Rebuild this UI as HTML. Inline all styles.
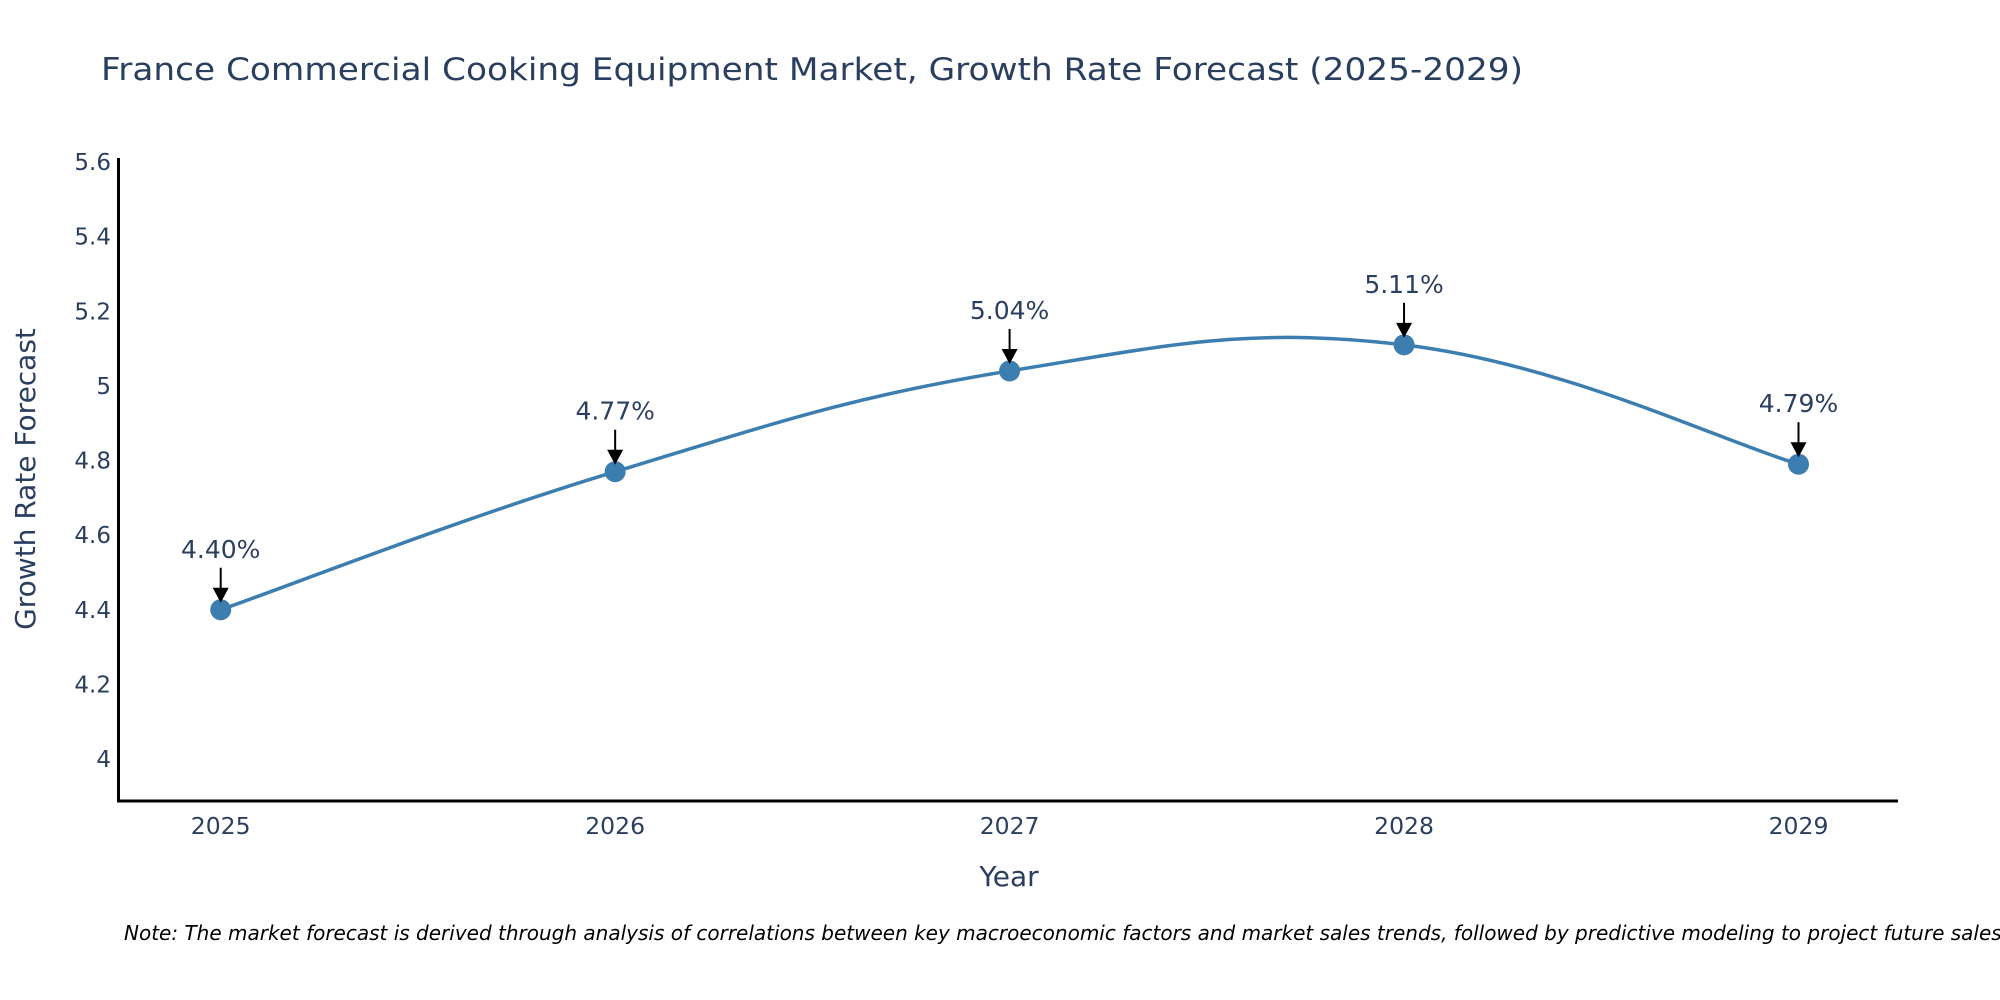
<!DOCTYPE html>
<html><head><meta charset="utf-8"><style>
html,body{margin:0;padding:0;background:#fff;overflow:hidden;}
svg{display:block;font-family:"DejaVu Sans","Liberation Sans",sans-serif;}
</style></head><body>
<svg id="chart" width="2000" height="1000" viewBox="0 0 2000 1000">
<text x="101" y="80" font-size="31" fill="#2a3f5f" textLength="1422" lengthAdjust="spacingAndGlyphs">France Commercial Cooking Equipment Market, Growth Rate Forecast (2025-2029)</text>
<g id="yticks"></g>
<g id="xticks"></g>
<g id="series"></g>
<g id="annots"></g>
<line x1="118.5" y1="158" x2="118.5" y2="802" stroke="#000" stroke-width="3"/>
<line x1="117" y1="801" x2="1898" y2="801" stroke="#000" stroke-width="3"/>
<text transform="translate(35,479) rotate(-90)" text-anchor="middle" font-size="28" fill="#2a3f5f">Growth Rate Forecast</text>
<text x="1009" y="886" text-anchor="middle" font-size="28" fill="#2a3f5f">Year</text>
<text x="124" y="940" font-size="20" font-style="italic" fill="#000">Note: The market forecast is derived through analysis of correlations between key macroeconomic factors and market sales trends, followed by predictive modeling to project future sales.</text>
</svg>
<script>
const years = [2025, 2026, 2027, 2028, 2029];
const rates = [4.40, 4.77, 5.04, 5.11, 4.79];
const labels = ["4.40%", "4.77%", "5.04%", "5.11%", "4.79%"];
const yTickValues = [4, 4.2, 4.4, 4.6, 4.8, 5, 5.2, 5.4, 5.6];
const yTickLabels = ["4", "4.2", "4.4", "4.6", "4.8", "5", "5.2", "5.4", "5.6"];

const NS = "http://www.w3.org/2000/svg";
function xs(v){ return 220.7 + (v - 2025) * (1798.5 - 220.7) / 4; }
function ys(v){ return 759 - (v - 4) * (759 - 162) / 1.6; }
function mk(tag, attrs, parent){ const e = document.createElementNS(NS, tag); for (const k in attrs) e.setAttribute(k, attrs[k]); parent.appendChild(e); return e; }

const yg = document.getElementById('yticks');
yTickValues.forEach((v, i) => {
  const t = mk('text', {x: 111, y: ys(v) + 8, 'text-anchor': 'end', 'font-size': 23, fill: '#2a3f5f'}, yg);
  
  
  t.textContent = yTickLabels[i];
});
const xg = document.getElementById('xticks');
years.forEach(y => {
  const t = mk('text', {x: xs(y), y: 834, 'text-anchor': 'middle', 'font-size': 23.5, fill: '#2a3f5f'}, xg);
  
  
  t.textContent = String(y);
});

const pts = years.map((y, i) => [xs(y), ys(rates[i])]);
let d = `M${pts[0][0]},${pts[0][1]}`;
const s = 0.2;
for (let i = 0; i < pts.length - 1; i++) {
  const p0 = pts[Math.max(0, i - 1)], p1 = pts[i], p2 = pts[i + 1], p3 = pts[Math.min(pts.length - 1, i + 2)];
  const c1 = [p1[0] + (p2[0] - p0[0]) * s, p1[1] + (p2[1] - p0[1]) * s];
  const c2 = [p2[0] - (p3[0] - p1[0]) * s, p2[1] - (p3[1] - p1[1]) * s];
  d += ` C${c1[0]},${c1[1]} ${c2[0]},${c2[1]} ${p2[0]},${p2[1]}`;
}
const sg = document.getElementById('series');
const line = mk('path', {d: d, fill: 'none', stroke: '#3d7eb0', 'stroke-width': 3.5}, sg);


pts.forEach(p => {
  const c = mk('circle', {cx: p[0], cy: p[1], r: 10.5, fill: '#3d7eb0'}, sg);
  
  
});

const ag = document.getElementById('annots');
pts.forEach((p, i) => {
  const l = mk('line', {x1: p[0], y1: p[1] - 42, x2: p[0], y2: p[1] - 20, stroke: '#000', 'stroke-width': 2}, ag);
  
  
  const h = mk('polygon', {points: `${p[0]-8},${p[1]-22} ${p[0]+8},${p[1]-22} ${p[0]},${p[1]-7}`, fill: '#000'}, ag);
  
  
  const t = mk('text', {x: p[0], y: p[1] - 52, 'text-anchor': 'middle', 'font-size': 25, fill: '#2a3f5f'}, ag);
  
  
  t.textContent = labels[i];
});
</script>
</body></html>
